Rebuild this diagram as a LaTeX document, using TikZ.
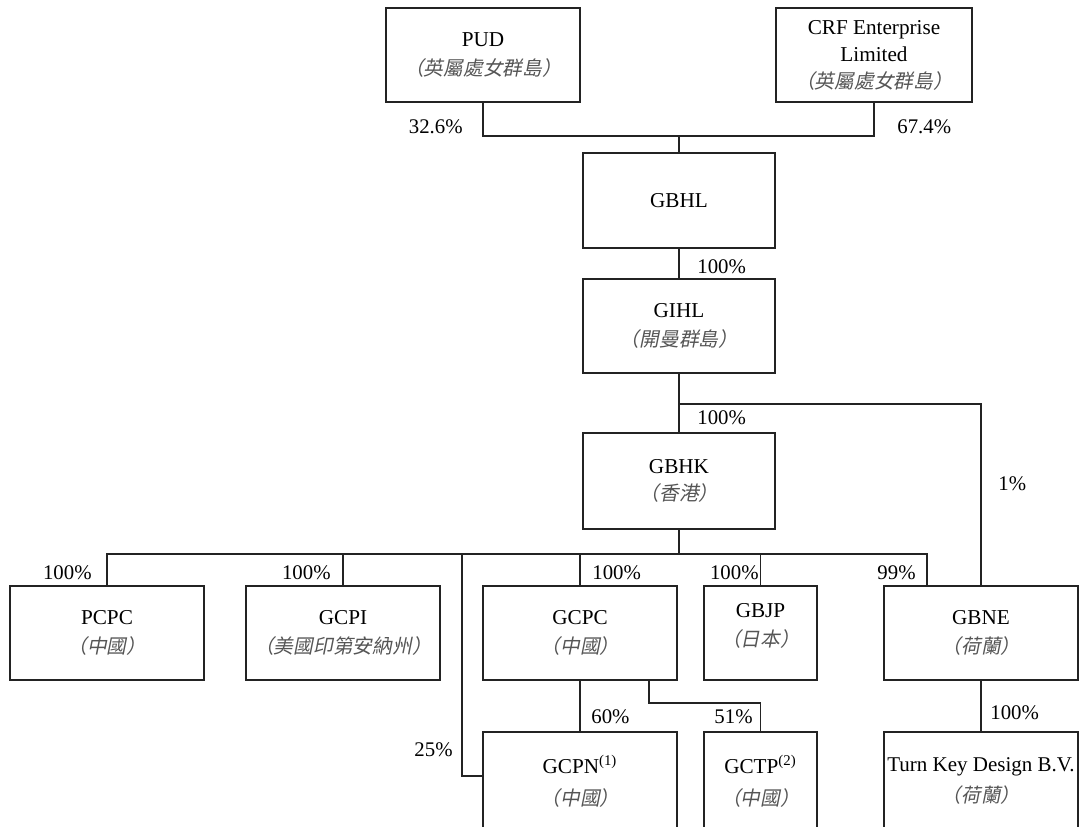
\documentclass[tikz,border=0pt]{standalone}
\usepackage{fontspec}
\setmainfont{Liberation Serif}
\newfontfamily\cjkit[FakeSlant=0.2,Scale=0.93]{Noto Sans CJK TC}
\definecolor{orgline}{RGB}{35,35,35}
\definecolor{orgcjk}{RGB}{85,85,85}
\newcommand{\jur}[1]{{\cjkit\color{orgcjk}（#1）}}

\begin{document}
\begin{tikzpicture}[x=0.5pt,y=-0.5pt,
    entity/.style={draw=orgline,line width=0.7pt,minimum width=97pt,
      minimum height=47pt,inner sep=0pt,align=center,
      font=\fontsize{10.6}{14.5}\selectfont},
    share/.style={inner sep=0pt,font=\fontsize{10.4}{12}\selectfont},
    link/.style={draw=orgline,line width=0.55pt}]
  \useasboundingbox (0,0) rectangle (1082,826);
  \clip (0,0) rectangle (1082,826);

  % shareholders
  \node[entity] (pud) at (483,55) {PUD\\\jur{英屬處女群島}};
  \node[entity,minimum width=98pt,font=\fontsize{10.6}{13.5}\selectfont]
    (crf) at (874,55) {CRF Enterprise\\Limited\\\jur{英屬處女群島}};

  % holding chain
  \node[entity,minimum width=96pt,minimum height=47.5pt] (gbhl) at (679,200.5) {GBHL};
  \node[entity,minimum width=96pt] (gihl) at (679,326) {GIHL\\\jur{開曼群島}};
  \node[entity,minimum width=96pt,minimum height=48pt,
    font=\fontsize{10.6}{13.5}\selectfont] (gbhk) at (679,481) {GBHK\\\jur{香港}};

  % subsidiaries
  \node[entity] (pcpc) at (107,633) {PCPC\\\jur{中國}};
  \node[entity] (gcpi) at (343,633) {GCPI\\\jur{美國印第安納州}};
  \node[entity] (gcpc) at (580,633) {GCPC\\\jur{中國}};
  \node[entity,minimum width=56.5pt] (gbjp) at (760.5,633) {GBJP\\\jur{日本}\\[-6.5pt]};
  \node[entity] (gbne) at (981,633) {GBNE\\\jur{荷蘭}};
  \node[entity,minimum height=49pt,font=\fontsize{10.6}{16}\selectfont]
    (gcpn) at (580,781) {GCPN\textsuperscript{(1)}\\\jur{中國}};
  \node[entity,minimum width=56.5pt,minimum height=49pt,
    font=\fontsize{10.6}{16}\selectfont] (gctp) at (760.5,781) {GCTP\textsuperscript{(2)}\\\jur{中國}};
  \node[entity,minimum height=49pt,font=\fontsize{10.5}{15.5}\selectfont]
    (tkd) at (981,781) {Turn Key Design B.V.\\\jur{荷蘭}};

  % junctions
  \coordinate (topfork) at (679,136);
  \coordinate (nlfork) at (679,404);
  \coordinate (hkfork) at (679,554);
  \coordinate (cnfork) at (462,554);
  \coordinate (nein) at (927,586);
  \coordinate (tpfork) at (649,703);

  \draw[link] (pud.south) |- (topfork) -| (crf.south);
  \draw[link] (topfork) -- (gbhl.north);
  \draw[link] (gbhl) -- (gihl);
  \draw[link] (gihl) -- (gbhk);
  \draw[link] (nlfork) -| (gbne.north);
  \draw[link] (gbhk.south) -- (hkfork);
  \draw[link] (pcpc.north) |- (hkfork) -| (nein);
  \draw[link] (gcpi.north) -- (gcpi.north |- hkfork);
  \draw[link] (gcpc.north) -- (gcpc.north |- hkfork);
  \draw[link] (gbjp.north) -- (gbjp.north |- hkfork);
  \draw[link] (cnfork) |- ([yshift=2.5pt]gcpn.west);
  \draw[link] (gcpc) -- (gcpn);
  \draw[link] (gcpc.south -| tpfork) -- (tpfork) -| (gctp.north);
  \draw[link] (gbne) -- (tkd);

  % percentages
  \node[share,anchor=east] (p326) at (463,127) {32.6\%};
  \node[share,anchor=west] (p674) at (897,127) {67.4\%};
  \node[share,anchor=west] (p100a) at (697,267) {100\%};
  \node[share,anchor=west] (p100b) at (697,418) {100\%};
  \node[share,anchor=west] (p1) at (998,484) {1\%};
  \node[share,anchor=east] (p100c) at (92,573) {100\%};
  \node[share,anchor=east] (p100d) at (331,573) {100\%};
  \node[share,anchor=west] (p100e) at (592,573) {100\%};
  \node[share,anchor=east] (p100f) at (759,573) {100\%};
  \node[share,anchor=east] (p99) at (916,573) {99\%};
  \node[share,anchor=west] (p60) at (591,717) {60\%};
  \node[share,anchor=east] (p51) at (753,717) {51\%};
  \node[share,anchor=west] (p100g) at (990,713) {100\%};
  \node[share,anchor=east] (p25) at (453,750) {25\%};
\end{tikzpicture}
\end{document}
